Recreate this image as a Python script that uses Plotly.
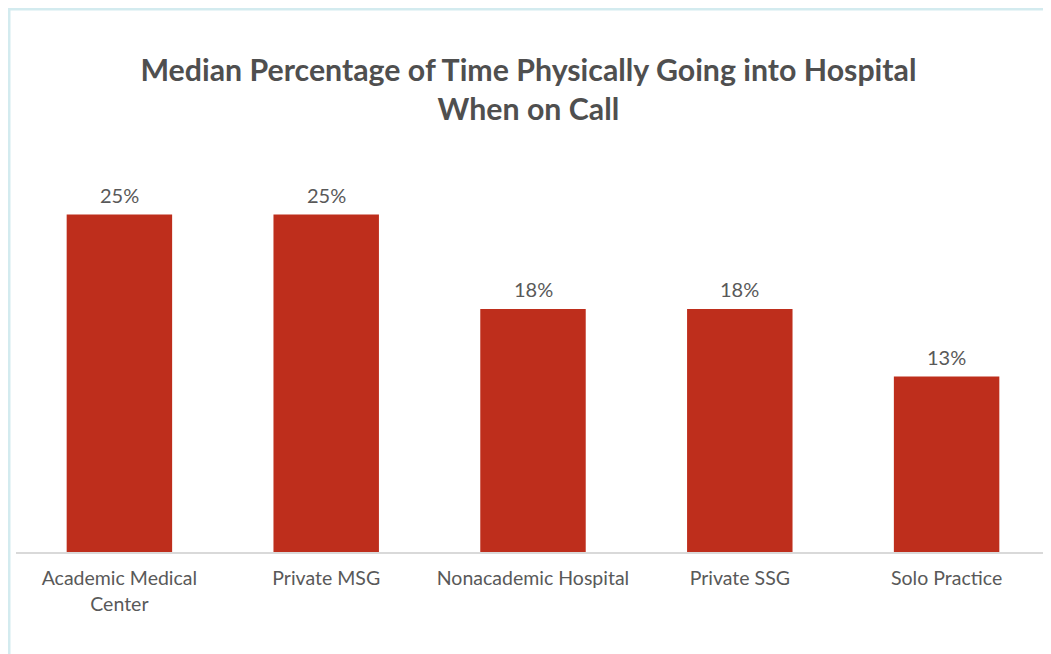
import plotly.graph_objects as go

categories = ["Academic Medical<br>Center", "Private MSG", "Nonacademic Hospital", "Private SSG", "Solo Practice"]
values = [25, 25, 18, 18, 13]
value_labels = ["25%", "25%", "18%", "18%", "13%"]

# page body has an 8px margin, so the figure is sized/positioned to compensate
W, H = 1043, 646
L, R, T, B = 8, 1, 139, 102
pw, ph = W - L - R, H - T - B

def px_x(x):
    return (x - L) / pw

def px_y(y):
    return (H - B - y) / ph

fig = go.Figure(go.Bar(
    x=categories, y=values,
    marker=dict(color="#BE2E1C", line=dict(width=0)),
    hoverinfo="skip",
))

for c, v, t in zip(categories, values, value_labels):
    fig.add_annotation(x=c, y=v, text=t, showarrow=False,
                       xanchor="center", yanchor="bottom", yshift=6,
                       font=dict(family="Lato", size=20, color="#595959"))

border = "#D3EBEF"
fig.add_shape(type="line", xref="paper", yref="paper",
              x0=px_x(0), x1=px_x(W + 5), y0=px_y(1), y1=px_y(1),
              line=dict(color=border, width=3))
fig.add_shape(type="line", xref="paper", yref="paper",
              x0=px_x(1), x1=px_x(1), y0=px_y(0), y1=px_y(H + 5),
              line=dict(color=border, width=3))

fig.update_layout(
    width=W, height=H,
    margin=dict(l=L, r=R, t=T, b=B),
    paper_bgcolor="white", plot_bgcolor="white",
    bargap=0.49,
    showlegend=False,
    title=dict(
        text="<b>Median Percentage of Time Physically Going into Hospital<br>When on Call</b>",
        x=0.499, xanchor="center", y=1 - 73 / H, yanchor="middle",
        font=dict(family="Lato", size=30.3, color="#4F4F4F"),
    ),
    xaxis=dict(
        showline=True, linecolor="#D9D9D9", linewidth=2,
        ticks="", showgrid=False, zeroline=False, ticklabelstandoff=8,
        tickfont=dict(family="Lato", size=19.5, color="#595959"),
    ),
    yaxis=dict(range=[0, 30], visible=False, showgrid=False, zeroline=False),
)

fig.write_html("out.html")
